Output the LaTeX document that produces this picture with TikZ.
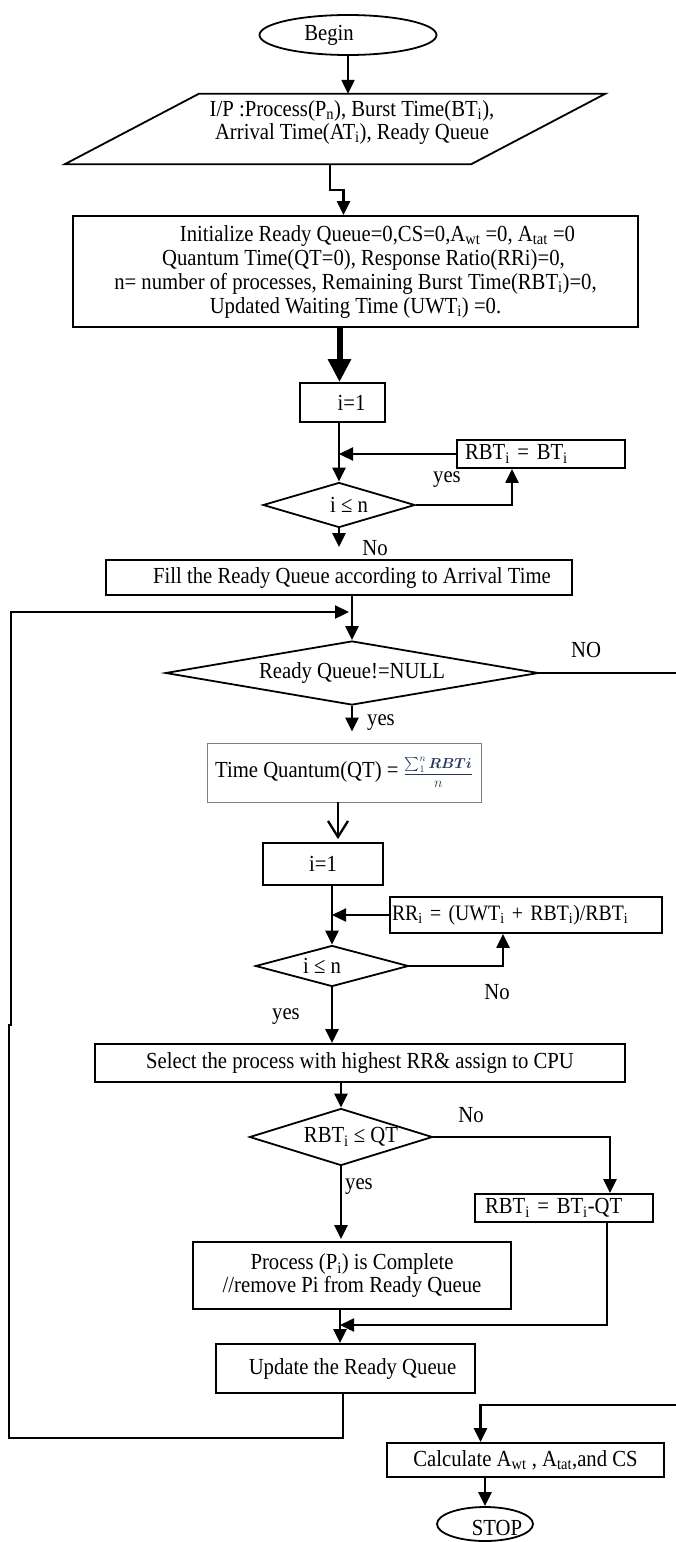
\documentclass[tikz,border=0pt]{standalone}
\usepackage{fontspec}
\setmainfont{Liberation Serif}[FakeStretch=0.9]
\usepackage{amssymb,amsmath}
\usepackage{tikz}
\usetikzlibrary{shapes.geometric,arrows.meta,calc}
\definecolor{fracblue}{RGB}{35,55,95}
\newcommand{\subtxt}[1]{\textsubscript{#1}}

\tikzset{
  proc/.style={draw, rectangle, line width=1.8pt, inner sep=0pt},
  cond/.style={draw, diamond, line width=1.8pt, inner sep=0pt},
  term/.style={draw, ellipse, line width=1.8pt, inner sep=0pt},
  ioline/.style={draw, line width=1.8pt, line join=miter},
  conn/.style={line width=2.3pt},
  arr/.style={conn, -{Triangle[length=14pt,width=13pt]}},
  fatarr/.style={line width=6pt, -{Triangle[length=23pt,width=22pt]}},
  openarr/.style={conn, -{Straight Barb[length=16pt,width=20pt]}}
}

\begin{document}
\begin{tikzpicture}[x=1pt, y=-1pt, font=\fontsize{23}{23}\selectfont]
        \useasboundingbox (0,0) rectangle (676,1542);
        % main column
        \node [term, minimum width=177, minimum height=40] (begin) at (348,35) {};
        \node (begintxt) at (329,35) {Begin};
        \node [inner sep=0pt, minimum width=406, minimum height=70] (inp) at (335,129) {};
        \draw [ioline] ([xshift=67pt]inp.north west) -- ([xshift=67pt]inp.north east)
              -- ([xshift=-67pt]inp.south east) -- ([xshift=-67pt]inp.south west) -- cycle;
        \node [align=center] (inptxt) at (352,122) {I/P :Process(P\subtxt{n}), Burst Time(BT\subtxt{i}),\\ Arrival Time(AT\subtxt{i}), Ready Queue};
        \node [proc, minimum width=565, minimum height=111, align=center, font=\fontsize{23}{24}\selectfont] (init) at (355.5,271.5) {\hspace*{44pt}Initialize Ready Queue=0,CS=0,A\subtxt{wt} =0, A\subtxt{tat} =0\\ \hspace*{16pt}Quantum Time(QT=0), Response Ratio(RRi)=0,\\ n= number of processes, Remaining Burst Time(RBT\subtxt{i})=0,\\ Updated Waiting Time (UWT\subtxt{i}) =0.};
        \node [proc, minimum width=85, minimum height=39] (ione) at (342.5,402.5) {\hspace*{18pt}i=1};
        \node [proc, minimum height=28, text width=152pt, inner xsep=8pt, align=left] (rbt) at (541,454) {RBT\subtxt{i} = BT\subtxt{i}};
        \node [cond, aspect=3.5, minimum width=152, minimum height=45] (chkone) at (339,505) {\hspace*{20pt}i ≤ n};
        \node [proc, minimum width=466, minimum height=35] (fill) at (339,577.5) {\hspace*{26pt}Fill the Ready Queue according to Arrival Time};
        \node [cond, aspect=5.8, minimum width=373, minimum height=64] (rq) at (352,673) {Ready Queue!=NULL};
        \node [proc, draw=gray, line width=0.8pt, minimum width=274, minimum height=59] (tq) at (344,772.5) {Time Quantum(QT) = {\color{fracblue}\fontsize{14}{15}\selectfont$\dfrac{\sum\nolimits_{1}^{n}\boldsymbol{RBTi}}{n}$}};
        \node [proc, minimum width=120, minimum height=42] (itwo) at (323,864) {i=1};
        \node [proc, minimum height=36, text width=268pt, inner xsep=2pt, align=left, font=\fontsize{22}{22}\selectfont] (rr) at (526,915) {RR\subtxt{i} = (UWT\subtxt{i} + RBT\subtxt{i})/RBT\subtxt{i}};
        \node [cond, aspect=3.5, minimum width=153, minimum height=41] (chktwo) at (332,966) {i ≤ n\hspace*{20pt}};
        \node [proc, minimum width=530, minimum height=38] (sel) at (360,1063) {Select the process with highest RR\& assign to CPU};
        \node [cond, aspect=3.2, minimum width=183, minimum height=57] (chkqt) at (341,1137) {\hspace*{20pt}RBT\subtxt{i} ≤ QT};
        \node [proc, minimum height=28, text width=158pt, inner xsep=10pt, align=left] (sub) at (564,1208) {RBT\subtxt{i} = BT\subtxt{i}-QT};
        \node [proc, minimum width=318, minimum height=67, align=center] (done) at (352,1275.5) {Process (P\subtxt{i}) is Complete\\ //remove Pi from Ready Queue};
        \node [proc, minimum width=259, minimum height=49] (upd) at (345.5,1368.5) {\hspace*{14pt}Update the Ready Queue};
        \node [proc, minimum width=277, minimum height=34] (calc) at (525.5,1460) {Calculate A\subtxt{wt} , A\subtxt{tat},and CS};
        \node [term, minimum width=96, minimum height=34] (stop) at (485,1524) {};
        \node (stoptxt) at (497,1528) {STOP};
        % branch labels
        \node (yesA) at (447,480) {yes};
        \node (noA) at (375,548) {No};
        \node (noRQ) at (586,650) {NO};
        \node (yesB) at (381,723) {yes};
        \node (noB) at (497,992) {No};
        \node (yesC) at (286,1017) {yes};
        \node (noC) at (471,1115) {No};
        \node (yesD) at (359,1187) {yes};
        % free ends and joins
        \coordinate (outR) at (676,673);
        \coordinate (backR) at (676,1405);
        \coordinate (mrg) at (340,1325);
        \coordinate (lpBot) at (9,1438);
        \coordinate (lpTop) at (11,612);
        % connectors
        \draw [arr] (begin.south) -- (begin.south |- inp.north);
        \draw [arr] ([xshift=-5pt]inp.south) -- ++(0,26) -| ([xshift=-12pt]init.north);
        \draw [fatarr] ([xshift=-16pt]init.south) -- ([xshift=-3pt]ione.north);
        \draw [arr] (chkone.north |- ione.south) -- (chkone.north);
        \draw [arr] (rbt.west) -- (chkone.north |- rbt.west);
        \draw [arr] (chkone.east) -| ([xshift=-29pt]rbt.south);
        \draw [arr, shorten >=12pt] (chkone.south) -- (chkone.south |- fill.north);
        \draw [arr] (rq.north |- fill.south) -- (rq.north);
        \draw [conn] (rq.east) -- (outR);
        \draw [arr, shorten >=11pt] (rq.south) -- (rq.south |- tq.north);
        \draw [openarr, shorten >=3pt] ([xshift=-6pt]tq.south) -- ([xshift=-6pt]tq.south |- itwo.north);
        \draw [arr] (chktwo.north |- itwo.south) -- (chktwo.north);
        \draw [arr] (rr.west) -- (chktwo.north |- rr.west);
        \draw [arr] (chktwo.east) -| ([xshift=-23pt]rr.south);
        \draw [arr] (chktwo.south) -- (chktwo.south |- sel.north);
        \draw [arr] (chkqt.north |- sel.south) -- (chkqt.north);
        \draw [arr] (chkqt.east) -| ([xshift=46pt]sub.north);
        \draw [arr, shorten >=2pt] (chkqt.south) -- (chkqt.south |- done.north);
        \draw [arr] ([xshift=43pt]sub.south) |- (mrg);
        \draw [arr] (done.south -| mrg) -- (upd.north -| mrg);
        \draw [arr, shorten >=3pt] ([xshift=-2.5pt]upd.south) |- (lpBot) -- ++(0,-413) -- ++(2,0) -- (lpTop) -- (rq.north |- lpTop);
        \draw [arr] (backR) -| ([xshift=-45pt]calc.north);
        \draw [arr] (stop.north |- calc.south) -- (stop.north);
\end{tikzpicture}
\end{document}
